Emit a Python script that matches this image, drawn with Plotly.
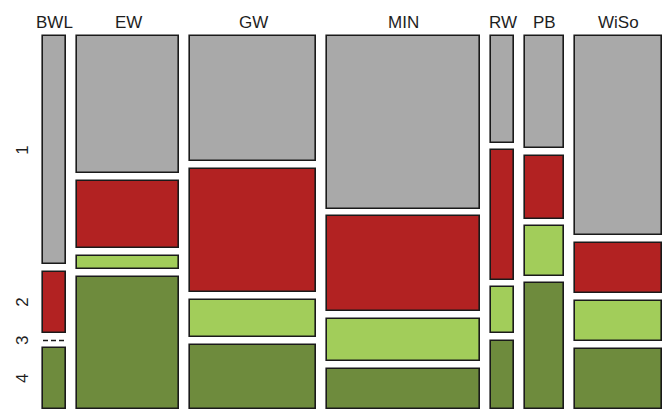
import plotly.graph_objects as go

# Data: estimated counts (columns = faculty, rows = response category 1..4)
columns = ["BWL", "EW", "GW", "MIN", "RW", "PB", "WiSo"]
row_labels = ["1", "2", "3", "4"]
cat1 = [30, 80, 90, 151, 14, 25, 99]
cat2 = [8, 39, 89, 83, 17, 14, 25]
cat3 = [0, 8, 27, 37, 6, 11, 20]
cat4 = [8, 77, 46, 35, 9, 28, 30]
row_colors = ["#A9A9A9", "#B22222", "#A2CD5A", "#6E8B3D"]

rows = [cat1, cat2, cat3, cat4]
ncol = len(columns)
col_tot = [sum(r[i] for r in rows) for i in range(ncol)]
grand = sum(col_tot)

# coordinate system of the mosaic area
W, H = 619.0, 373.0
gapx = 11.0
gapy = 23.0 / 3
availx = W - gapx * (ncol - 1)
availy = H - gapy * (len(rows) - 1)

col_x0, col_w = [], []
x = 0.0
for i in range(ncol):
    w = availx * col_tot[i] / grand
    col_x0.append(x)
    col_w.append(w)
    x += w + gapx

fig = go.Figure()
zero_lines = []
seg_centers = {}
for j, r in enumerate(rows):
    xs, ws, bases, hs = [], [], [], []
    for i in range(ncol):
        prev = sum(rows[k][i] for k in range(j))
        top = H - availy * prev / col_tot[i] - j * gapy
        h = availy * r[i] / col_tot[i]
        if i == 0:
            seg_centers[j] = top - h / 2
        if r[i] == 0:
            zero_lines.append((col_x0[i], col_x0[i] + col_w[i], top))
            continue
        xs.append(col_x0[i] + col_w[i] / 2)
        ws.append(col_w[i])
        bases.append(top - h)
        hs.append(h)
    fig.add_trace(go.Bar(
        x=xs, y=hs, base=bases, width=ws,
        marker=dict(color=row_colors[j], line=dict(color="#1a1a1a", width=1.6)),
        showlegend=False, hoverinfo="skip",
    ))

for (x0, x1, y) in zero_lines:
    fig.add_trace(go.Scatter(
        x=[x0, x1], y=[y, y], mode="lines",
        line=dict(color="#1a1a1a", width=1.6, dash="5px,3px"),
        showlegend=False, hoverinfo="skip",
    ))

# axis ranges with padding (1 unit == 1 px)
ML, MR, MT, MB = 38, 0, 31, 4
xr = [-5, 666 - ML - MR - 5]
yr = [-5, 418 - MT - MB - 5]

def px_x(v):
    return (v - xr[0]) / (xr[1] - xr[0])

def px_y(v):
    return (v - yr[0]) / (yr[1] - yr[0])

font = dict(size=17, color="#1e1e1e", family="Liberation Sans, Arial, sans-serif")
annotations = []
for i, name in enumerate(columns):
    annotations.append(dict(
        x=px_x(col_x0[i] + col_w[i] / 2), y=px_y(H + 13.5), xref="paper", yref="paper",
        text=name, showarrow=False, xanchor="center", yanchor="middle", font=font,
    ))
for j, lab in enumerate(row_labels):
    annotations.append(dict(
        x=px_x(-20.5), y=px_y(seg_centers[j]), xref="paper", yref="paper",
        text=lab, showarrow=False, textangle=-90,
        xanchor="center", yanchor="middle", font=font,
    ))

fig.update_layout(
    width=666, height=418,
    margin=dict(l=ML, r=MR, t=MT, b=MB),
    paper_bgcolor="white", plot_bgcolor="white",
    barmode="overlay", bargap=0,
    xaxis=dict(range=xr, showgrid=False, zeroline=False, showticklabels=False,
               showline=False, ticks=""),
    yaxis=dict(range=yr, showgrid=False, zeroline=False, showticklabels=False,
               showline=False, ticks=""),
    annotations=annotations,
)

fig.write_html("out.html", config={"displayModeBar": False},
               post_script="document.body.style.margin='0';")
